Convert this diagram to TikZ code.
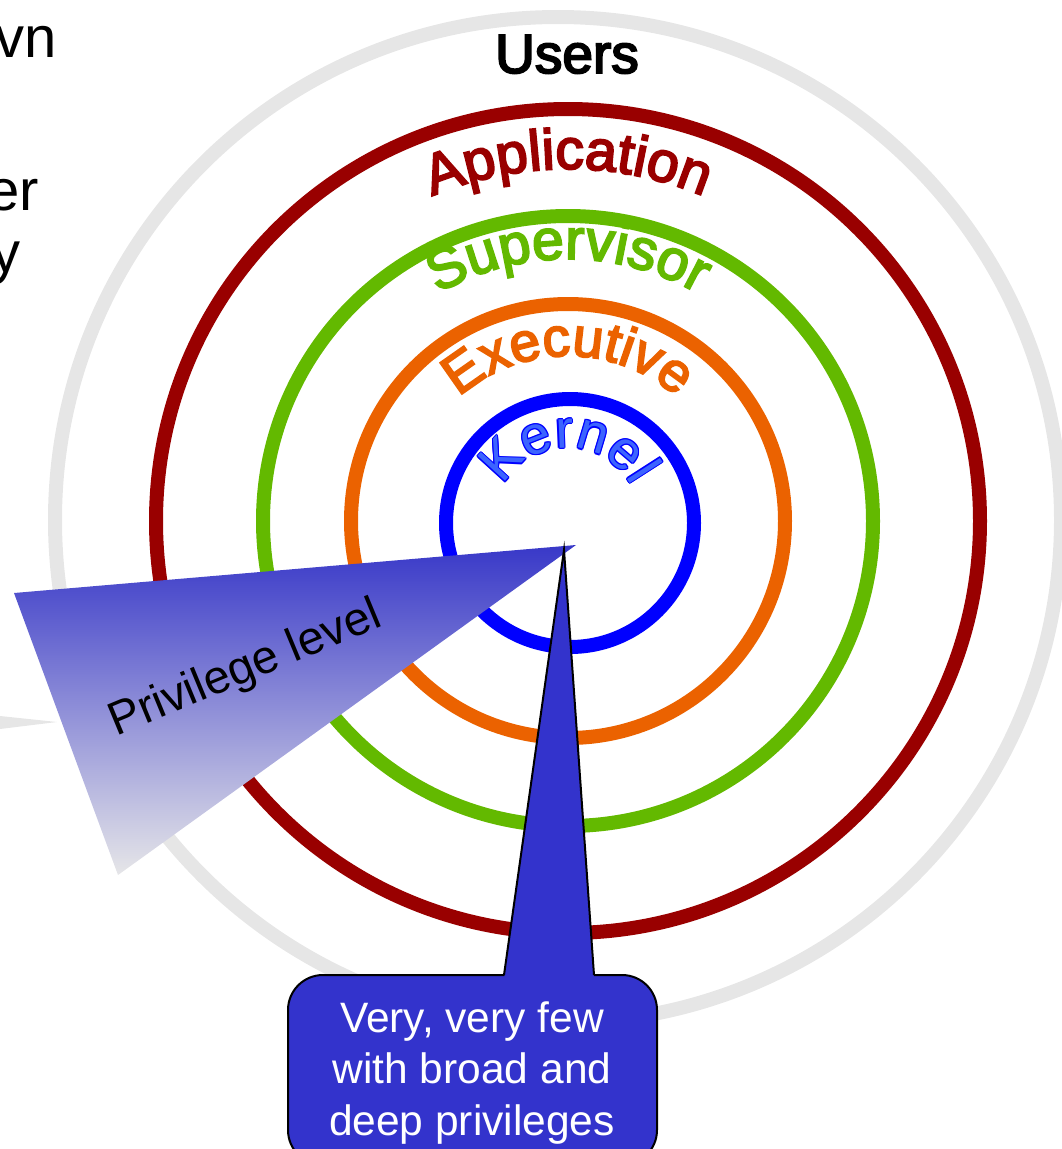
\documentclass[tikz,border=0pt]{standalone}
\usepackage{fontspec}
\setmainfont{Liberation Sans}
\newfontfamily\wordart[FakeBold=3.5]{Liberation Sans}
\usetikzlibrary{decorations.text}
\definecolor{ringgray}{RGB}{230,230,230}
\definecolor{appred}{RGB}{153,0,0}
\definecolor{supgreen}{RGB}{99,185,0}
\definecolor{exeorange}{RGB}{235,98,0}
\definecolor{kerblue}{RGB}{0,0,255}
\definecolor{kerfill}{RGB}{60,100,255}
\definecolor{callblue}{RGB}{51,51,204}
\definecolor{wedgetop}{RGB}{56,56,200}
\definecolor{wedgebot}{RGB}{230,230,232}
\begin{document}
\begin{tikzpicture}[x=1pt,y=1pt,
  ring/.style={line width=14pt},
  fragtext/.style={anchor=base east, inner sep=0pt, font=\fontsize{58}{60}\selectfont},
  calltext/.style={anchor=base, inner sep=0pt, text=white, font=\fontsize{42.5}{48}\selectfont},
  calloutline/.style={draw=black, line width=2pt}
]
\useasboundingbox (0,0) rectangle (1062,-1149);
% slide text fragments at the left edge
\node[fragtext] (frag1) at (57,-57) {vn};
\node[fragtext] (frag2) at (39,-210) {er};
\node[fragtext] (frag3) at (21,-272) {y};
\fill[ringgray] (0,-716) -- (57,-722) -- (0,-729) -- cycle;
% rings
\draw[ring, ringgray] (558,-520) circle[radius=503];
\draw[ring, appred] (568,-521) circle[radius=412];
\draw[ring, supgreen] (568,-521) circle[radius=305];
\draw[ring, exeorange] (568,-521) circle[radius=217];
\draw[ring, kerblue] (570,-523) circle[radius=124];
% ring labels
\node[anchor=base, inner sep=0pt, font=\wordart\fontsize{55}{60}\selectfont] (users) at (567,-73) {Users};
\path[shift={(568,-521)}, decorate, decoration={text along path, text align=center, text color=appred,
  text={|\wordart\fontsize{57}{57}\selectfont|Application}}] (160:352) arc[start angle=160, end angle=20, radius=352];
\path[shift={(568,-521)}, decorate, decoration={text along path, text align=center, text color=supgreen,
  text={|\wordart\fontsize{57}{57}\selectfont|Supervisor}}] (160:262) arc[start angle=160, end angle=20, radius=262];
\path[shift={(568,-521)}, decorate, decoration={text along path, text align=center, text color=exeorange,
  text={|\wordart\fontsize{55}{55}\selectfont|Executive}}] (160:165) arc[start angle=160, end angle=20, radius=165];
\foreach \ox/\oy in {1.3/0,-1.3/0,0/1.3,0/-1.3,.9/.9,-.9/.9,.9/-.9,-.9/-.9} {
  \path[shift={(568+\ox,-520+\oy)}, decorate, decoration={text along path, text align=center, text color=kerblue,
    text={|\fontsize{54}{54}\selectfont|Kernel}}] (170:72) arc[start angle=170, end angle=10, radius=72];
}
\path[shift={(568,-520)}, decorate, decoration={text along path, text align=center, text color=kerfill,
  text={|\fontsize{54}{54}\selectfont|Kernel}}] (170:72) arc[start angle=170, end angle=10, radius=72];
% privilege wedge
\shade[top color=wedgetop, bottom color=wedgebot] (576,-545) -- (14,-593) -- (118,-875) -- cycle;
\node[anchor=base, rotate=22.5, inner sep=0pt, font=\fontsize{47}{48}\selectfont] (priv) at (250,-681) {Privilege level};
% callout
\filldraw[fill=callblue, calloutline, rounded corners=35pt] (288,-975) rectangle (657,-1165);
\coordinate (tip) at (564,-550);
\coordinate (tl) at (504,-975);
\coordinate (tr) at (594,-975);
\fill[callblue] (504,-979) -- (tip) -- (594,-979) -- cycle;
\draw[calloutline] (tl) -- (tip) -- (tr);
\node[calltext] (cl1) at (472,-1032) {Very, very few};
\node[calltext] (cl2) at (472,-1083) {with broad and};
\node[calltext] (cl3) at (472,-1135) {deep privileges};
\end{tikzpicture}
\end{document}
